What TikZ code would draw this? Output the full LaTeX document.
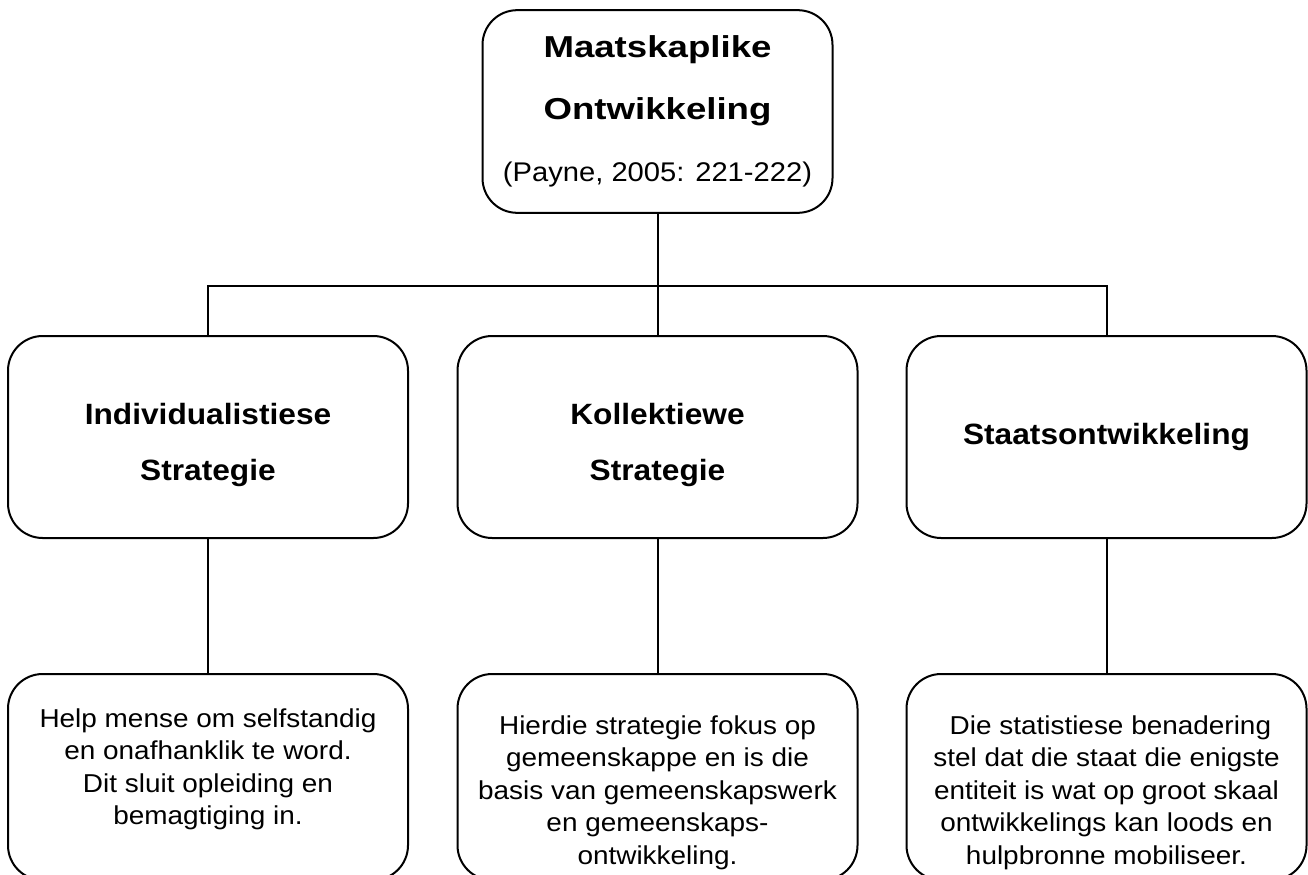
\documentclass[tikz,border=0pt]{standalone}
\usepackage{fontspec}
\setmainfont{Liberation Sans}[FakeStretch=1.08]
\newfontfamily\headfont{Liberation Sans}[FakeStretch=1.21]
\usetikzlibrary{positioning,calc}

\begin{document}
\begin{tikzpicture}[x=0.75pt,y=-0.75pt,
		box/.style={draw,line width=1.5pt,rounded corners=26pt,inner sep=0pt,align=center},
		headbox/.style={box,minimum width=262.5pt,minimum height=152pt,font=\headfont\bfseries\fontsize{22.7}{46.5}\selectfont},
		midbox/.style={box,minimum width=300pt,minimum height=151.5pt,font=\bfseries\fontsize{22}{42}\selectfont},
		lowbox/.style={box,minimum width=300pt,minimum height=154.5pt},
		lowtext/.style={inner sep=0pt,align=center,font=\fontsize{19.4}{24.4}\selectfont},
		link/.style={line width=1.5pt}]
					%\draw[help lines] (0,0) grid (1308,874);
					\useasboundingbox (0,0) rectangle (1308,874);
					\clip (0,0) rectangle (1308,874);
					%TOP
					\node[headbox] (top) at (657.5,111.5) {Maatskaplike\\Ontwikkeling\\{\normalfont\fontsize{20.25}{45}\selectfont (Payne, 2005: 221-222)}};
					\coordinate (fork) at (657.5,286);
					%STRATEGIES
					\node[midbox] (m1) at (208,437) {\rule{0pt}{28pt}Individualistiese\\Strategie};
					\node[midbox] (m2) at (657.5,437) {\rule{0pt}{28pt}Kollektiewe\\Strategie};
					\node[midbox] (m3) at (1106.5,437) {Staatsontwikkeling};
					%DESCRIPTIONS
					\node[lowbox] (l1) at (208,777) {};
					\node[lowbox] (l2) at (657.5,777) {};
					\node[lowbox] (l3) at (1106.5,777) {};
					\node[lowtext,below=26.25pt of l1.north] (t1) {Help mense om selfstandig\\en onafhanklik te word.\\Dit sluit opleiding en\\bemagtiging in.};
					\node[lowtext,below=31.5pt of l2.north] (t2) {Hierdie strategie fokus op\\gemeenskappe en is die\\basis van gemeenskapswerk\\en gemeenskaps-\\ontwikkeling.};
					\node[lowtext,below=31.5pt of l3.north] (t3) {\ Die statistiese benadering\\stel dat die staat die enigste\\entiteit is wat op groot skaal\\ontwikkelings kan loods en\\hulpbronne mobiliseer.};
					%LINKS
					\draw[link] (top) -- (fork);
					\draw[link] (m1) |- (fork) -| (m3);
					\draw[link] (fork) -- (m2);
					\draw[link] (m1) -- (l1);
					\draw[link] (m2) -- (l2);
					\draw[link] (m3) -- (l3);
\end{tikzpicture}
\end{document}
